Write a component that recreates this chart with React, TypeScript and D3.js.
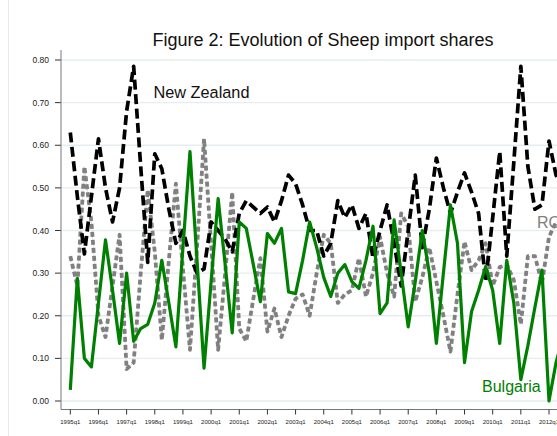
import React from "react";
import * as d3 from "d3";

const quarterLabels: string[] = [
  "1995q1","1996q1","1997q1","1998q1","1999q1","2000q1","2001q1","2002q1","2003q1",
  "2004q1","2005q1","2006q1","2007q1","2008q1","2009q1","2010q1","2011q1","2012q1","2013q1",
];
const yTicks: number[] = [0, 0.1, 0.2, 0.3, 0.4, 0.5, 0.6, 0.7, 0.8];

const newZealand: number[] = [
  0.63,0.48,0.345,0.48,0.615,0.50,0.42,0.50,0.68,0.785,
  0.55,0.325,0.58,0.545,0.45,0.37,0.40,0.34,0.30,0.31,
  0.42,0.40,0.38,0.35,0.44,0.47,0.455,0.44,0.455,0.42,
  0.47,0.53,0.51,0.46,0.40,0.40,0.34,0.37,0.47,0.43,
  0.46,0.405,0.44,0.335,0.40,0.46,0.37,0.27,0.40,0.53,
  0.36,0.45,0.57,0.50,0.44,0.49,0.535,0.49,0.44,0.28,
  0.43,0.585,0.34,0.56,0.785,0.55,0.45,0.46,0.61,0.53,0.50,
];
const bulgaria: number[] = [
  0.026,0.288,0.10,0.08,0.23,0.378,0.26,0.135,0.30,0.14,
  0.17,0.18,0.23,0.33,0.23,0.127,0.36,0.585,0.33,0.077,
  0.28,0.475,0.32,0.16,0.42,0.405,0.32,0.233,0.393,0.37,
  0.405,0.256,0.252,0.33,0.42,0.36,0.29,0.245,0.30,0.32,
  0.28,0.264,0.33,0.41,0.205,0.23,0.425,0.30,0.174,0.28,
  0.40,0.30,0.135,0.30,0.46,0.37,0.09,0.21,0.26,0.315,
  0.26,0.135,0.33,0.23,0.05,0.13,0.22,0.307,0.00,0.09,0.15,
];
const romania: number[] = [
  0.34,0.27,0.55,0.42,0.20,0.15,0.27,0.39,0.075,0.09,
  0.30,0.495,0.35,0.143,0.33,0.51,0.31,0.12,0.36,0.615,
  0.37,0.12,0.30,0.49,0.17,0.14,0.24,0.335,0.163,0.217,
  0.15,0.20,0.24,0.25,0.20,0.30,0.39,0.37,0.23,0.25,
  0.26,0.335,0.245,0.30,0.385,0.30,0.245,0.44,0.41,0.233,
  0.29,0.36,0.28,0.20,0.116,0.25,0.374,0.307,0.33,0.37,
  0.27,0.314,0.32,0.284,0.18,0.34,0.34,0.276,0.385,0.42,0.42,
];

const W = 557;
const H = 436;
const FONT = "'Liberation Sans', Arial, Helvetica, sans-serif";

export default function App() {
  const x = d3.scaleLinear().domain([0, 68]).range([70.3, 549]);
  const y = d3.scaleLinear().domain([0, 0.8]).range([401, 60]);
  const plotLeft = 61;
  const plotBottom = 409.5;

  const line = d3
    .line<number>()
    .x((_, i) => x(i))
    .y((d) => y(d));

  const xTickIdx = quarterLabels.map((_, i) => i * 4);

  return (
    <svg
      width={W}
      height={H}
      style={{ position: "absolute", left: 0, top: 0, background: "#fff" }}
      fontFamily={FONT}
    >
      <rect x={0} y={0} width={W} height={H} fill="#fff" />
      <line x1={8.5} x2={8.5} y1={0} y2={H} stroke="#e3eaee" strokeWidth={1} />
      <text x={323} y={46} fontSize={18} textAnchor="middle" fill="#111">
        Figure 2: Evolution of Sheep import shares
      </text>
      {yTicks.map((t) => (
        <g key={t}>
          <line x1={plotLeft} x2={W} y1={y(t)} y2={y(t)} stroke="#e6edf1" strokeWidth={1.3} />
          <line x1={55} x2={plotLeft} y1={y(t)} y2={y(t)} stroke="#333" strokeWidth={1} />
          <text x={49} y={y(t) + 3} fontSize={8.5} textAnchor="end" fill="#222">
            {t.toFixed(2)}
          </text>
        </g>
      ))}
      <line x1={plotLeft} x2={plotLeft} y1={50} y2={plotBottom} stroke="#777" strokeWidth={1} />
      <line x1={plotLeft} x2={W} y1={plotBottom} y2={plotBottom} stroke="#777" strokeWidth={1} />
      {xTickIdx.map((q, i) => (
        <g key={q}>
          <line x1={x(q)} x2={x(q)} y1={plotBottom} y2={plotBottom + 5} stroke="#333" strokeWidth={1} />
          <text x={x(q)} y={424} fontSize={6} textAnchor="middle" fill="#222">
            {quarterLabels[i]}
          </text>
        </g>
      ))}
      <path d={line(romania) || ""} fill="none" stroke="#e4e4e4" strokeWidth={1} />
      <path
        d={line(romania) || ""}
        fill="none"
        stroke="#808080"
        strokeWidth={3.8}
        strokeDasharray="5,3"
        strokeLinejoin="round"
      />
      <path
        d={line(newZealand) || ""}
        fill="none"
        stroke="#000"
        strokeWidth={3.7}
        strokeDasharray="10,4.5"
        strokeLinejoin="round"
      />
      <path
        d={line(bulgaria) || ""}
        fill="none"
        stroke="#008000"
        strokeWidth={3.2}
        strokeLinejoin="round"
      />
      <text x={153.5} y={98} fontSize={16.3} fill="#111">New Zealand</text>
      <text x={482} y={392} fontSize={16} fill="#008000">Bulgaria</text>
      <text x={537} y={228} fontSize={16} fill="#808080">ROMANIA</text>
    </svg>
  );
}
